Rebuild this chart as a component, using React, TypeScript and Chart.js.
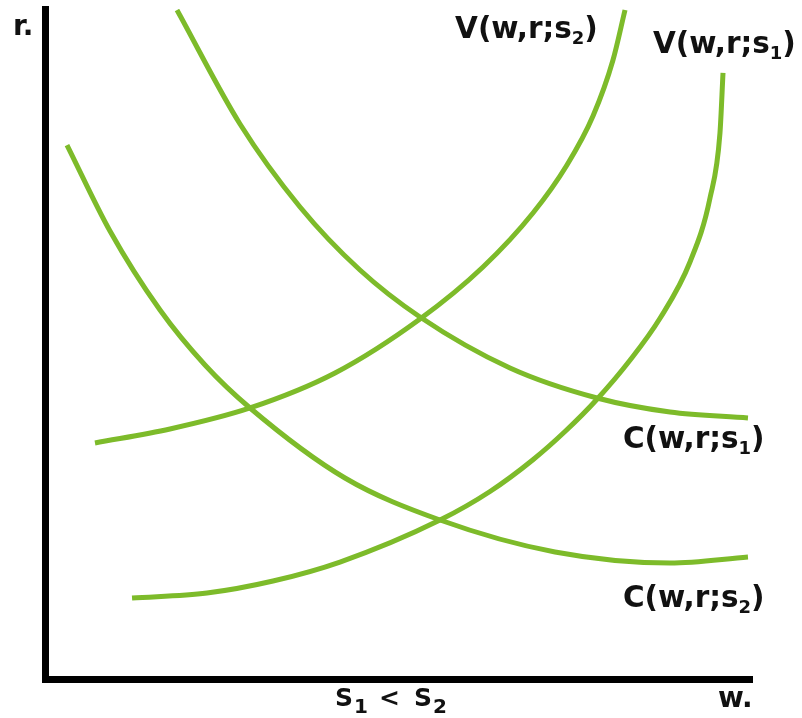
import React, { useEffect, useRef } from "react";
import { Chart, registerables } from "chart.js";

Chart.register(...registerables);

// Wage w on the horizontal axis, rent r on the vertical axis (arbitrary units, 0–10).
const W_MAX = 10;
const R_MAX = 10;

// Cost curve C(w,r;s1)
const costS1W = [1.867, 2.758, 3.607, 4.455, 5.304, 6.577, 7.808, 8.84, 9.943];
const costS1R = [9.985, 8.284, 7.045, 6.104, 5.403, 4.642, 4.194, 3.985, 3.896];

// Cost curve C(w,r;s2)
const costS2W = [0.311, 0.919, 1.627, 2.263, 2.9, 4.243, 5.587, 7.214, 8.84, 9.943];
const costS2R = [7.97, 6.687, 5.507, 4.687, 4.045, 3.0, 2.373, 1.896, 1.731, 1.821];

// Value curve V(w,r;s2)
const valueS2W = [0.707, 1.768, 2.9, 4.102, 5.304, 6.195, 6.902, 7.383, 7.751, 8.034, 8.204];
const valueS2R = [3.522, 3.731, 4.045, 4.567, 5.373, 6.149, 6.955, 7.672, 8.403, 9.239, 9.985];

// Value curve V(w,r;s1)
const valueS1W = [1.231, 2.291, 3.225, 4.172, 5.587, 6.294, 6.902, 7.355, 7.808, 8.274, 8.699, 9.123, 9.406, 9.547, 9.59];
const valueS1R = [1.209, 1.284, 1.463, 1.746, 2.373, 2.799, 3.273, 3.694, 4.176, 4.757, 5.384, 6.224, 7.179, 8.149, 9.045];

// Curve names: main text, subscript, closing text
const curveNames = [
  ["C(w,r;s", "1", ")"],
  ["C(w,r;s", "2", ")"],
  ["V(w,r;s", "2", ")"],
  ["V(w,r;s", "1", ")"],
];
// Where each name sits (w, r of its left baseline)
const curveNameW = [8.175, 8.175, 5.8, 8.6];
const curveNameR = [3.448, 1.075, 9.567, 9.343];

const LINE_GREEN = "#7dbb2a";
const INK = "#111111";
const FONT_FAMILY = '"DejaVu Sans", Verdana, sans-serif';

const toPoints = (ws: number[], rs: number[]) => ws.map((w, i) => ({ x: w, y: rs[i] }));

type Part = { text: string; sub?: boolean; gap?: number };

function drawParts(ctx: CanvasRenderingContext2D, parts: Part[], x: number, y: number, size: number, subSize: number, subDrop: number) {
  let cx = x;
  for (const p of parts) {
    cx += p.gap || 0;
    ctx.font = `bold ${p.sub ? subSize : size}px ${FONT_FAMILY}`;
    ctx.fillText(p.text, cx, p.sub ? y + subDrop : y);
    cx += ctx.measureText(p.text).width;
  }
}

const labelPlugin = {
  id: "curveLabels",
  afterDraw(chart: any) {
    const { ctx, scales } = chart;
    const xs = scales.x;
    const ys = scales.y;
    ctx.save();
    ctx.fillStyle = INK;
    ctx.textAlign = "left";
    ctx.textBaseline = "alphabetic";

    curveNames.forEach((n, i) => {
      const px = xs.getPixelForValue(curveNameW[i]);
      const py = ys.getPixelForValue(curveNameR[i]);
      drawParts(ctx, [{ text: n[0] }, { text: n[1], sub: true }, { text: n[2] }], px, py, 29.5, 18, 6);
    });

    // axis names
    drawParts(ctx, [{ text: "r." }], xs.getPixelForValue(-0.453), ys.getPixelForValue(9.612), 28, 18, 6);
    drawParts(ctx, [{ text: "w." }], xs.getPixelForValue(9.519), ys.getPixelForValue(-0.418), 28, 18, 6);
    drawParts(
      ctx,
      [
        { text: "S" },
        { text: "1", sub: true, gap: 1 },
        { text: "<", gap: 11 },
        { text: "S", gap: 14 },
        { text: "2", sub: true, gap: 1 },
      ],
      xs.getPixelForValue(4.102),
      ys.getPixelForValue(-0.4),
      25,
      20,
      7
    );
    ctx.restore();
  },
};

export default function App() {
  const canvasRef = useRef<HTMLCanvasElement | null>(null);

  useEffect(() => {
    const canvas = canvasRef.current;
    if (!canvas) return;
    const line = (ws: number[], rs: number[]) => ({
      data: toPoints(ws, rs),
      borderColor: LINE_GREEN,
      borderWidth: 5,
      pointRadius: 0,
      fill: false,
      showLine: true,
      cubicInterpolationMode: "monotone" as const,
    });
    const chart = new Chart(canvas, {
      type: "scatter",
      data: {
        datasets: [
          line(costS1W, costS1R),
          line(costS2W, costS2R),
          line(valueS2W, valueS2R),
          line(valueS1W, valueS1R),
        ],
      },
      options: {
        animation: false,
        responsive: false,
        devicePixelRatio: 1,
        layout: { padding: { left: 45, right: 50, top: 9, bottom: 39 } },
        plugins: { legend: { display: false }, tooltip: { enabled: false } },
        scales: {
          x: {
            type: "linear",
            min: 0,
            max: W_MAX,
            ticks: { display: false },
            grid: { display: false, drawTicks: false },
            border: { display: true, color: "#000", width: 7 },
          },
          y: {
            type: "linear",
            min: 0,
            max: R_MAX,
            ticks: { display: false },
            grid: { display: false, drawTicks: false },
            border: { display: true, color: "#000", width: 7 },
          },
        },
      },
      plugins: [labelPlugin],
    });
    return () => chart.destroy();
  }, []);

  return (
    <div style={{ position: "fixed", left: 0, top: 0, width: 802, height: 718, background: "#fff" }}>
      <canvas ref={canvasRef} width={802} height={718} style={{ display: "block" }} />
    </div>
  );
}
